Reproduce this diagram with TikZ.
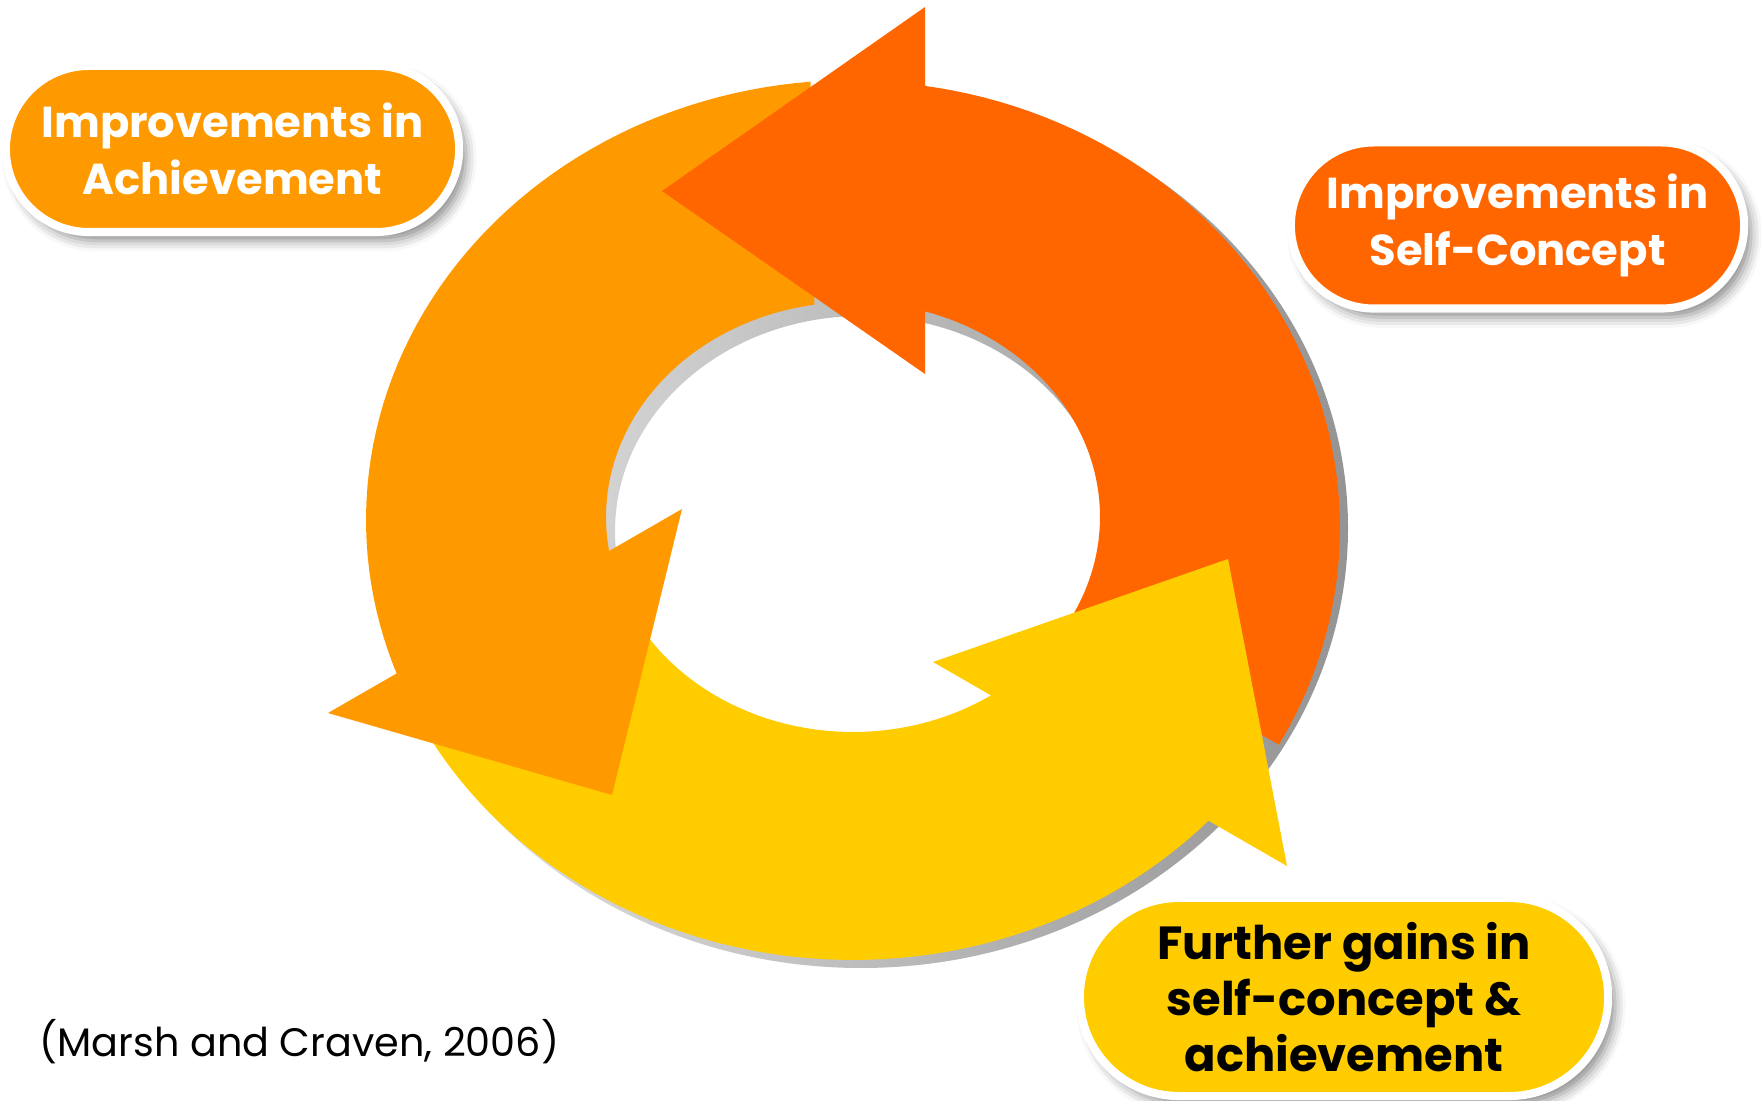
\documentclass[tikz,border=0pt]{standalone}
\usepackage{fontspec}
\setmainfont{Poppins}
\usetikzlibrary{shapes.misc,shadows.blur}

\definecolor{ochre}{HTML}{FF9900}
\definecolor{rust}{HTML}{FF6600}
\definecolor{sun}{HTML}{FFCC00}

\begin{document}
\begin{tikzpicture}[x=0.01cm,y=-0.01cm,
  pill/.style={rounded rectangle, draw=white, line width=2.3pt, inner sep=0pt,
    minimum width=4.53cm, minimum height=1.66cm, align=center,
    font=\bfseries\fontsize{12.3}{16.2}\selectfont,
    blur shadow={shadow xshift=2pt, shadow yshift=-2.5pt, shadow blur radius=3pt, shadow opacity=45}}]
\useasboundingbox (0,0) rectangle (1761,1101);
% shadow of the ring
\shade[even odd rule, left color=black!10, right color=black!42]
  (861,528) ellipse [x radius=487, y radius=440]
  (862,531) ellipse [x radius=247, y radius=215];
% the three bands
\fill[rust] plot[domain=-84:29, samples=60] ({853+487*cos(\x)},{528+447*sin(\x)})
  -- plot[domain=30:-76, samples=60] ({853+247*cos(\x)},{517+215*sin(\x)}) -- cycle;
\fill[ochre] plot[domain=265:157, samples=60] ({853+487*cos(\x)},{520+440*sin(\x)})
  -- plot[domain=168:261, samples=60] ({853+247*cos(\x)},{517+215*sin(\x)}) -- cycle;
\fill[sun] plot[domain=158:41, samples=60] ({853+487*cos(\x)},{520+440*sin(\x)})
  -- plot[domain=55:167, samples=60] ({853+247*cos(\x)},{517+215*sin(\x)}) -- cycle;
% heads go on top
\fill[rust] (925,7) -- (662,191) -- (925,374) -- cycle;
\fill[ochre] (682,509) -- (328,713) -- (612,795) -- cycle;
\fill[sun] (933,662) -- (1228,559) -- (1287,866) -- cycle;
% labels
\node[pill, fill=ochre, text=white] (achv) at (232.5,149) {Improvements in\\Achievement};
\node[pill, fill=rust, text=white] (selfc) at (1517.5,225.5) {Improvements in\\Self-Concept};
\node[pill, fill=sun, minimum width=5.28cm, minimum height=1.98cm,
  font=\bfseries\fontsize{13.2}{16}\selectfont] (gains) at (1344,997) {Further gains in\\self-concept \&\\achievement};
\node[anchor=base west, font=\fontsize{11.3}{14}\selectfont] (cite) at (27,1056) {(Marsh and Craven, 2006)};
\end{tikzpicture}
\end{document}
